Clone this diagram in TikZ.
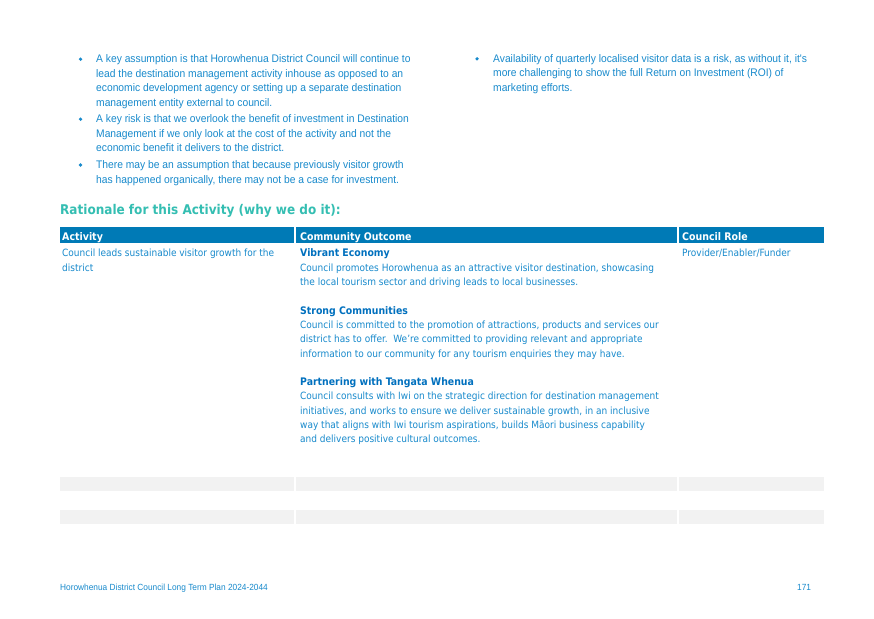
\documentclass[tikz,border=0pt]{standalone}
\usepackage{fontspec}
\setmainfont{DejaVu Sans Condensed}
\newfontfamily\bulletfont[FakeStretch=0.935]{Liberation Sans}
\usetikzlibrary{positioning}
\definecolor{textblue}{RGB}{24,138,204}
\definecolor{barblue}{RGB}{0,122,182}
\definecolor{headteal}{RGB}{52,190,178}
\definecolor{subblue}{RGB}{0,112,190}
\definecolor{rowgray}{RGB}{242,242,242}

\begin{document}
\begin{tikzpicture}[x=1pt,y=-1pt]
  \useasboundingbox[fill=white] (0,0) rectangle (874,618);
  \begin{scope}[every node/.style={anchor=north west,inner sep=0,align=left,text=textblue,
      font=\bulletfont\fontsize{11}{14.4}\selectfont}]
    \node (riskA) at (96,54.8) {A key assumption is that Horowhenua District Council will continue to\\
      lead the destination management activity inhouse as opposed to an\\
      economic development agency or setting up a separate destination\\
      management entity external to council.};
    \node (riskB) at (96,114.8) {A key risk is that we overlook the benefit of investment in Destination\\
      Management if we only look at the cost of the activity and not the\\
      economic benefit it delivers to the district.};
    \node (riskC) at (96,160.6) {There may be an assumption that because previously visitor growth\\
      has happened organically, there may not be a case for investment.};
    \node (riskD) at (493,54.3) {Availability of quarterly localised visitor data is a risk, as without it, it's\\
      more challenging to show the full Return on Investment (ROI) of\\
      marketing efforts.};
  \end{scope}
  \begin{scope}[every node/.style={circle,fill=textblue,inner sep=0,minimum size=3.6pt}]
    \node (dotA) at (80.5,59.2) {};
    \node (dotB) at (80.5,119.2) {};
    \node (dotC) at (80.5,165) {};
    \node (dotD) at (477,58.8) {};
  \end{scope}
  \node[anchor=north west,inner sep=0,text=headteal,font=\bfseries\fontsize{13.4}{15}\selectfont]
    (rationale) at (60,204) {Rationale for this Activity (why we do it):};
  % header bar and empty rows
  \foreach \top/\bot/\col in {227/243/barblue,477/491/rowgray,510/524/rowgray}{
    \fill[\col] (60,\top) rectangle (294,\bot);
    \fill[\col] (296,\top) rectangle (677,\bot);
    \fill[\col] (679,\top) rectangle (824,\bot);
  }
  \begin{scope}[every node/.style={anchor=north west,inner sep=0,text=white,
      font=\bfseries\fontsize{10.5}{14.3}\selectfont}]
    \node (hdActivity) at (62,232.5) {Activity};
    \node (hdOutcome) at (300,232.5) {Community Outcome};
    \node (hdRole) at (682,232.5) {Council Role};
  \end{scope}
  \begin{scope}[every node/.style={anchor=north west,inner sep=0,align=left,text=textblue,
      font=\fontsize{10}{14.3}\selectfont}]
    \node (activity) at (62,249)
      {Council leads sustainable visitor growth for the\\district};
    \node (role) at (682,249) {Provider/Enabler/Funder};
    \node (outcome) at (300,248.8)
      {\textcolor{subblue}{\bfseries\fontsize{10.4}{14.3}\selectfont Vibrant Economy}\\
      Council promotes Horowhenua as an attractive visitor destination, showcasing\\
      the local tourism sector and driving leads to local businesses.\\[14.3pt]
      \textcolor{subblue}{\bfseries\fontsize{10.4}{14.3}\selectfont Strong Communities}\\
      Council is committed to the promotion of attractions, products and services our\\
      district has to offer.\ \ We're committed to providing relevant and appropriate\\
      information to our community for any tourism enquiries they may have.\\[14.3pt]
      \textcolor{subblue}{\bfseries\fontsize{10.4}{14.3}\selectfont Partnering with Tangata Whenua}\\
      Council consults with Iwi on the strategic direction for destination management\\
      initiatives, and works to ensure we deliver sustainable growth, in an inclusive\\
      way that aligns with Iwi tourism aspirations, builds M\=aori business capability\\
      and delivers positive cultural outcomes.};
  \end{scope}
  \begin{scope}[every node/.style={anchor=north west,inner sep=0,text=textblue,
      font=\bulletfont\fontsize{8.9}{10}\selectfont}]
    \node (footer) at (60,584) {Horowhenua District Council Long Term Plan 2024-2044};
    \node (page) at (797,584) {171};
  \end{scope}
\end{tikzpicture}
\end{document}
